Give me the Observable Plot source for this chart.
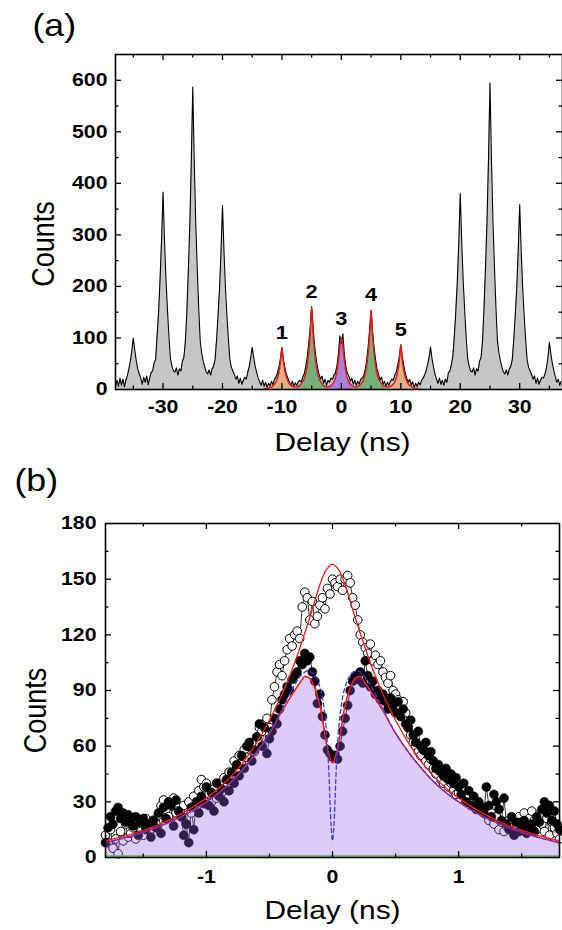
<!DOCTYPE html>
<html><head><meta charset="utf-8">
<script src="https://cdn.jsdelivr.net/npm/d3@7"></script>
<script src="https://cdn.jsdelivr.net/npm/@observablehq/plot@0.6"></script>
<style>
body{margin:0;background:#fff;}
#chart{width:562px;height:930px;background:#fff;}
#chart svg{display:block;}
</style></head><body><div id="chart"></div>
<script>
// ================= Panel (a) data =================
const histStart = -38, histStep = 0.25;
const histCounts = [
  5, 18, 6, 22,
  8, 20, 5, 18, 27, 40, 55, 75,
  100, 76, 55, 40, 30, 22, 10, 24, 14, 26, 9, 22, 33, 36, 52, 58, 105, 150, 215, 290,
  383, 287, 211, 153, 100, 60, 45, 36, 34, 42, 28, 40, 36, 55, 62, 92, 150, 230, 320, 440,
  587, 440, 323, 235, 158, 94, 70, 55, 44, 34, 30, 38, 28, 40, 45, 58, 96, 143, 196, 268,
  357, 268, 196, 143, 96, 57, 43, 36, 29, 20, 26, 12, 22, 10, 18, 24, 20, 33, 45, 62,
  82, 62, 45, 33, 22, 15, 8, 18, 6, 14, 4, 12, 7, 16, 9, 20, 24, 32, 44, 60,
  82, 58, 42, 30, 22, 14, 8, 16, 6, 13, 8, 15, 18, 14, 24, 30, 44, 62, 88, 118,
  161, 118, 85, 60, 42, 30, 20, 26, 12, 20, 8, 18, 14, 22, 20, 28, 32, 45, 68, 104,
  90, 108, 68, 45, 32, 26, 16, 22, 10, 18, 8, 16, 10, 20, 22, 26, 38, 55, 82, 115,
  153, 112, 82, 58, 40, 30, 18, 24, 10, 16, 6, 14, 8, 16, 20, 18, 28, 34, 48, 64,
  87, 64, 46, 32, 22, 14, 20, 8, 15, 4, 12, 6, 14, 9, 18, 22, 28, 36, 48, 62,
  82, 60, 44, 30, 20, 12, 22, 10, 18, 8, 20, 14, 32, 36, 48, 64, 103, 152, 209, 285,
  380, 285, 209, 152, 100, 60, 45, 36, 34, 42, 28, 40, 36, 55, 62, 95, 160, 238, 327, 446,
  595, 446, 327, 238, 160, 95, 71, 56, 44, 34, 30, 38, 28, 40, 45, 58, 97, 144, 197, 269,
  359, 269, 197, 144, 97, 57, 43, 36, 29, 20, 26, 12, 22, 10, 18, 24, 22, 30, 42, 62,
  92, 68, 50, 36, 24, 14, 20, 8, 16
];
const fitAStart = -13, fitAStep = 0.25;
const fitACounts = [
  1, 2, 2, 3, 4, 5, 7, 10, 15, 22, 34, 53,
  80, 54, 36, 24, 16, 11, 8, 6, 5, 5, 5, 6,
  8, 11, 15, 21, 31, 47, 71, 108, 160, 108, 71, 47,
  31, 21, 15, 11, 8, 6, 5, 5, 6, 8, 10, 15,
  22, 35, 55, 82, 100, 82, 55, 35, 22, 15, 10, 8,
  6, 5, 5, 6, 8, 10, 14, 20, 30, 46, 70, 105,
  155, 105, 70, 46, 30, 21, 15, 11, 8, 6, 5, 5,
  5, 6, 8, 11, 15, 23, 36, 56, 86, 56, 36, 24,
  16, 11, 8, 6, 4, 3, 2, 2, 1
];
const peakLabels = ["1", "2", "3", "4", "5"];
const peakCenters = [-10, -5, 0, 5, 10];
const peakTops = [80, 160, 108, 155, 86];
const peakRanges = [[-13, -7.5], [-7.5, -2.5], [-2.5, 2.5], [2.5, 7.5], [7.5, 13]];
const peakFills = ["#ff9636", "#15931a", "#8a3cf0", "#15931a", "#ff9636"];
const aXLabels = [-30, -20, -10, 0, 10, 20, 30];
const aXMajor = [-30, -20, -10, 0, 10, 20, 30];
const aXMinor = [-35, -25, -15, -5, 5, 15, 25, 35];
const aYLabels = [0, 100, 200, 300, 400, 500, 600];
const aYMajor = [100, 200, 300, 400, 500, 600];
const aYMinor = [50, 150, 250, 350, 450, 550];

// ================= Panel (b) data =================
const binStart = -1.8, binStep = 0.02;
const openCounts = [
  12, 8, 15, 5, 10, 2, 14, 9, 18, 11,
  13, 16, 10, 19, 14, 12, 21, 17, 15, 20,
  18, 23, 28, 31, 26, 22, 29, 32, 24, 27,
  22, 28, 18, 30, 24, 33, 27, 36, 42, 38,
  40, 34, 30, 37, 32, 40, 35, 43, 38, 46,
  45, 52, 48, 55, 50, 58, 54, 60, 62, 57,
  65, 70, 68, 72, 75, 70, 85, 92, 100, 104,
  98, 106, 112, 118, 114, 120, 122, 118, 135, 143,
  140, 128, 138, 126, 130, 136, 140, 134, 145, 142,
  150, 148, 146, 150, 144, 150, 152, 148, 140, 136,
  128, 120, 116, 113, 110, 115, 106, 109, 104, 106,
  100, 97, 94, 98, 90, 88, 85, 81, 84, 78,
  70, 66, 62, 60, 57, 55, 58, 52, 50, 53,
  48, 45, 47, 42, 40, 43, 38, 40, 36, 34,
  35, 37, 33, 30, 34, 28, 31, 26, 29, 25,
  27, 23, 20, 24, 18, 22, 15, 19, 14, 17,
  20, 16, 21, 18, 22, 19, 24, 17, 21, 25,
  20, 15, 23, 18, 14, 21, 12, 19, 16, 13,
  10
];
const filledCounts = [
  8, 16, 22, 18, 25, 27, 21, 24, 19, 23,
  20, 17, 22, 12, 19, 21, 15, 18, 11, 20,
  16, 24, 13, 27, 21, 30, 28, 17, 31, 25,
  22, 12, 18, 8, 27, 15, 30, 24, 33, 29,
  38, 28, 35, 25, 40, 33, 37, 30, 42, 36,
  46, 40, 50, 44, 55, 48, 60, 62, 52, 58,
  65, 72, 60, 70, 56, 64, 68, 75, 72, 80,
  85, 88, 92, 90, 96, 98, 100, 106, 104, 110,
  106, 108, 100, 95, 83, 88, 76, 66, 58, 56,
  54, 55, 53, 60, 68, 75, 82, 90, 95, 98,
  96, 100, 94, 106, 98, 92, 95, 88, 90, 85,
  88, 84, 80, 86, 82, 78, 84, 76, 80, 72,
  70, 74, 66, 62, 68, 60, 58, 62, 55, 57,
  52, 48, 50, 46, 44, 48, 42, 45, 40, 43,
  38, 34, 40, 30, 36, 28, 33, 26, 30, 27,
  24, 38, 28, 22, 34, 30, 26, 20, 32, 18,
  15, 22, 12, 19, 14, 17, 20, 13, 16, 18,
  14, 22, 19, 26, 30, 24, 28, 20, 25, 18,
  15
];
const singleFitX = [-1.8, -1.6, -1.4, -1.2, -1.0, -0.9, -0.8, -0.7, -0.6, -0.5, -0.4, -0.3, -0.2, -0.15, -0.1, -0.05, 0,
  0.05, 0.1, 0.15, 0.2, 0.3, 0.4, 0.5, 0.6, 0.7, 0.8, 0.9, 1.0, 1.2, 1.4, 1.6, 1.8];
const singleFitY = [9, 12.5, 17, 23.5, 32, 37.5, 44, 52, 62, 74, 88, 105, 125, 136, 147, 155, 158,
  155, 147, 136, 125, 105, 88, 74, 62, 52, 44, 37.5, 32, 23.5, 17, 12.5, 9];
const dipFitX = [-1.8, -1.6, -1.4, -1.2, -1.0, -0.9, -0.8, -0.7, -0.6, -0.5, -0.4, -0.3, -0.25, -0.22, -0.18, -0.15, -0.1, -0.06, -0.03, 0,
  0.03, 0.06, 0.1, 0.15, 0.18, 0.22, 0.25, 0.3, 0.4, 0.5, 0.6, 0.7, 0.8, 0.9, 1.0, 1.2, 1.4, 1.6, 1.8];
const dipFitY = [8, 11.5, 16, 22, 30, 35, 41, 48.5, 57, 67, 79, 90, 95, 97.5, 96.5, 93, 82, 66, 56, 51,
  56, 66, 82, 93, 96.5, 97.5, 95, 90, 79, 67, 57, 48.5, 41, 35, 30, 22, 16, 11.5, 8];
const deconvX = [-1.8, -1.6, -1.4, -1.2, -1.0, -0.9, -0.8, -0.7, -0.6, -0.5, -0.4, -0.3, -0.25, -0.2, -0.15, -0.1, -0.07, -0.05, -0.03, -0.02, -0.01, 0,
  0.01, 0.02, 0.03, 0.05, 0.07, 0.1, 0.15, 0.2, 0.25, 0.3, 0.4, 0.5, 0.6, 0.7, 0.8, 0.9, 1.0, 1.2, 1.4, 1.6, 1.8];
const deconvY = [8, 11.5, 16, 22, 30, 35, 41, 48.5, 57, 67, 80, 93, 98, 100.5, 99, 92, 82, 70, 48, 30, 16, 9,
  16, 30, 48, 70, 82, 92, 99, 100.5, 98, 93, 80, 67, 57, 48.5, 41, 35, 30, 22, 16, 11.5, 8];
const bXLabels = [-1, 0, 1];
const bXMajor = [-1, 0, 1];
const bXMinor = [-1.5, -0.5, 0.5, 1.5];
const bYLabels = [0, 30, 60, 90, 120, 150, 180];
const bYMajor = [30, 60, 90, 120, 150];
const bYMinor = [15, 45, 75, 105, 135, 165];

// ================= build tables =================
const hist = histCounts.map((c, i) => ({x: histStart + i * histStep, y: c}));
const fitA = fitACounts.map((c, i) => ({x: fitAStart + i * fitAStep, y: c}));
const peaks = peakLabels.map((l, i) => ({label: l, x: peakCenters[i], y: peakTops[i]}));
const openT = openCounts.map((c, i) => ({x: binStart + i * binStep, y: c}));
const filledT = filledCounts.map((c, i) => ({x: binStart + i * binStep, y: c}));
const singleT = singleFitX.map((x, i) => ({x, y: singleFitY[i]}));
const dipT = dipFitX.map((x, i) => ({x, y: dipFitY[i]}));
const deconvT = deconvX.map((x, i) => ({x, y: deconvY[i]}));

const FONT = '"Liberation Sans", Arial, Helvetica, sans-serif';
const tickFont = {fontSize: 18.5, fontWeight: "bold", fill: "black"};

function frameTicks(W, H, xMaj, xMin, yMaj, yMin, majLen, minLen) {
  const s = {stroke: "black", strokeWidth: 1.3};
  return [
    Plot.ruleX(xMaj, {x: d => d, insetTop: H - majLen, ...s}),
    Plot.ruleX(xMaj, {x: d => d, insetBottom: H - majLen, ...s}),
    Plot.ruleX(xMin, {x: d => d, insetTop: H - minLen, ...s}),
    Plot.ruleX(xMin, {x: d => d, insetBottom: H - minLen, ...s}),
    Plot.ruleY(yMaj, {y: d => d, insetRight: W - majLen, ...s}),
    Plot.ruleY(yMaj, {y: d => d, insetLeft: W - majLen, ...s}),
    Plot.ruleY(yMin, {y: d => d, insetRight: W - minLen, ...s}),
    Plot.ruleY(yMin, {y: d => d, insetLeft: W - minLen, ...s})
  ];
}

// ================= Panel (a) =================
const A = {w: 562, h: 465, mt: 54, mb: 76, ml: 115, mr: 0};
const AW = A.w - A.ml - A.mr, AH = A.h - A.mt - A.mb;
const plotA = Plot.plot({
  width: A.w, height: A.h,
  marginTop: A.mt, marginBottom: A.mb, marginLeft: A.ml, marginRight: A.mr,
  style: {fontFamily: FONT, background: "white", overflow: "visible"},
  x: {domain: [-38, 37.2], axis: null},
  y: {domain: [0, 650], axis: null},
  marks: [
    Plot.areaY(hist, {x: "x", y: "y", fill: "#c6c6c6"}),
    ...peakRanges.map((r, i) => Plot.areaY(fitA.filter(d => d.x >= r[0] && d.x <= r[1]),
      {x: "x", y: "y", fill: peakFills[i], fillOpacity: i === 2 ? 0.5 : 0.45})),
    Plot.lineY(hist, {x: "x", y: "y", stroke: "black", strokeWidth: 1.1}),
    Plot.lineY(fitA, {x: "x", y: "y", stroke: "#f01414", strokeWidth: 1.4, curve: "catmull-rom"}),
    ...frameTicks(AW, AH, aXMajor, aXMinor, aYMajor, aYMinor, 6, 3.5),
    Plot.frame({stroke: "black", strokeWidth: 1.6}),
    Plot.text(peaks, {x: "x", y: "y", text: "label", lineAnchor: "bottom", dy: -9, ...tickFont, fontSize: 19}),
    Plot.text(aXLabels, {x: d => d, text: d => String(d), frameAnchor: "bottom", lineAnchor: "bottom", dy: 23, ...tickFont}),
    Plot.text(aYLabels, {y: d => d, text: d => String(d), frameAnchor: "left", textAnchor: "end", lineAnchor: "middle", dx: -8, ...tickFont}),
    Plot.text(["Delay (ns)"], {text: d => d, frameAnchor: "bottom", lineAnchor: "bottom", dx: 3.5, dy: 61, fontSize: 26, fill: "black"}),
    Plot.text(["Counts"], {text: d => d, frameAnchor: "left", rotate: -90, textAnchor: "middle", lineAnchor: "middle", dx: -71, dy: 22, fontSize: 27, fill: "black"}),
    Plot.text(["(a)"], {text: d => d, frameAnchor: "top-left", textAnchor: "start", lineAnchor: "bottom", dx: -83, dy: -18.5, fontSize: 31, fill: "black"})
  ]
});

// ================= Panel (b) =================
const B = {w: 562, h: 465, mt: 58, mb: 73, ml: 105, mr: 3};
const BW = B.w - B.ml - B.mr, BH = B.h - B.mt - B.mb;
const plotB = Plot.plot({
  width: B.w, height: B.h,
  marginTop: B.mt, marginBottom: B.mb, marginLeft: B.ml, marginRight: B.mr,
  style: {fontFamily: FONT, background: "white", overflow: "visible"},
  x: {domain: [-1.8, 1.8], axis: null},
  y: {domain: [0, 180], axis: null},
  marks: [
    Plot.lineY(openT, {x: "x", y: "y", stroke: "black", strokeWidth: 0.8}),
    Plot.lineY(filledT, {x: "x", y: "y", stroke: "black", strokeWidth: 0.8}),
    Plot.dot(openT, {x: "x", y: "y", r: 4.3, fill: "white", stroke: "black", strokeWidth: 1}),
    Plot.dot(filledT, {x: "x", y: "y", r: 4.5, fill: "black", stroke: "black", strokeWidth: 0.5}),
    Plot.areaY(dipT, {x: "x", y: "y", fill: "#9a5cf0", fillOpacity: 0.32, curve: "catmull-rom"}),
    Plot.ruleY([0], {stroke: "#5cb85c", strokeWidth: 1.5, dy: -1.5}),
    Plot.lineY(singleT, {x: "x", y: "y", stroke: "#ff1a1a", strokeWidth: 1.3, curve: "catmull-rom"}),
    Plot.lineY(dipT, {x: "x", y: "y", stroke: "#ff1a1a", strokeWidth: 1.5, curve: "catmull-rom"}),
    Plot.lineY(deconvT, {x: "x", y: "y", stroke: "#3a3aff", strokeWidth: 1.3, strokeDasharray: "4,3", curve: "catmull-rom"}),
    ...frameTicks(BW, BH, bXMajor, bXMinor, bYMajor, bYMinor, 6, 3.5),
    Plot.frame({stroke: "black", strokeWidth: 1.6}),
    Plot.text(bXLabels, {x: d => d, text: d => String(d), frameAnchor: "bottom", lineAnchor: "bottom", dy: 25, ...tickFont}),
    Plot.text(bYLabels, {y: d => d, text: d => String(d), frameAnchor: "left", textAnchor: "end", lineAnchor: "middle", dx: -9, ...tickFont}),
    Plot.text(["Delay (ns)"], {text: d => d, frameAnchor: "bottom", lineAnchor: "bottom", dx: 0, dy: 61, fontSize: 26, fill: "black"}),
    Plot.text(["Counts"], {text: d => d, frameAnchor: "left", rotate: -90, textAnchor: "middle", lineAnchor: "middle", dx: -69, dy: 20, fontSize: 27, fill: "black"}),
    Plot.text(["(b)"], {text: d => d, frameAnchor: "top-left", textAnchor: "start", lineAnchor: "bottom", dx: -91, dy: -33, fontSize: 31, fill: "black"})
  ]
});

// horizontal stretch of lettering, as in the reference
function stretch(svg) {
  svg.querySelectorAll("text").forEach(t => {
    const tr = t.getAttribute("transform") || "";
    if (tr.includes("rotate")) t.setAttribute("transform", tr + " scale(1,1.15)");
    else t.setAttribute("transform", tr + " scale(1.15,1)");
  });
}
stretch(plotA); stretch(plotB);
const root = document.getElementById("chart");
root.appendChild(plotA);
root.appendChild(plotB);
</script>
</body></html>
